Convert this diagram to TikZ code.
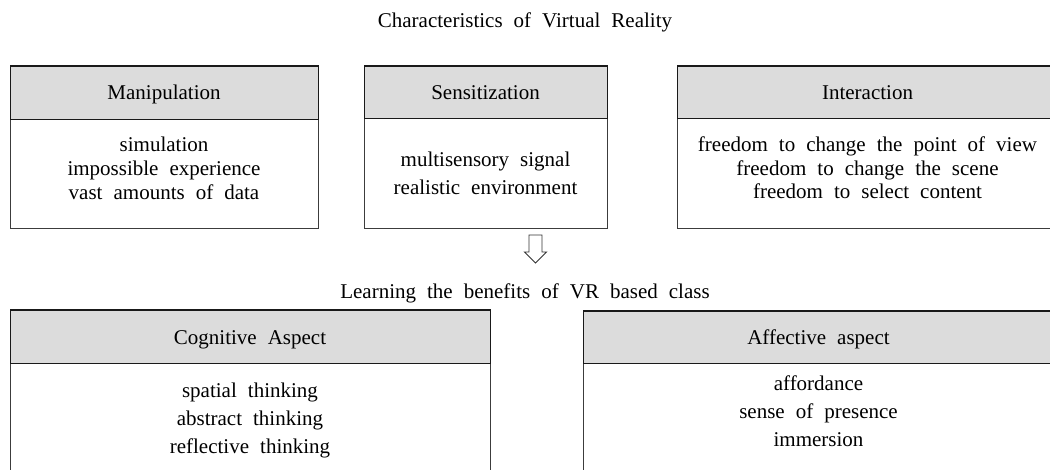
\documentclass[tikz,border=0pt]{standalone}
\usepackage{fontspec}
\setmainfont{Liberation Serif}[WordSpace=2.1]
\definecolor{hdrgray}{RGB}{220,220,220}
\definecolor{edge}{RGB}{60,60,60}
\begin{document}
\begin{tikzpicture}[x=1pt,y=-1pt,
  boxbody/.style={draw=edge, line width=1.2pt, fill=white, anchor=north west, inner sep=0pt},
  boxhead/.style={draw=black!90, line width=1.2pt, fill=hdrgray, anchor=north west, inner sep=0pt},
  topline/.style={draw=black!90, line width=2pt},
  lbl/.style={font=\fontsize{21}{24}\selectfont, anchor=base, inner sep=0pt},
  lines/.style={font=\fontsize{21}{#1}\selectfont, align=center, anchor=base, inner sep=0pt},
  hollowarrow/.style={draw=black!80, line width=0.9pt, fill=white, line join=miter}
]
\useasboundingbox (0,0) rectangle (1050,470);
\clip (0,0) rectangle (1050,470);

% title
\node[lbl] (title) at (525,28) {Characteristics of Virtual Reality};

% Manipulation
\node[boxbody, minimum width=308pt, minimum height=109pt] (manB) at (10,119) {};
\node[boxhead, minimum width=308pt, minimum height=53pt] (manH) at (10,66) {};
\draw[topline] (manH.north west) -- (manH.north east);
\node[lbl] (manT) at (164,100) {Manipulation};
\node[lines=24pt] (manL) at (164,200) {simulation\\impossible experience\\vast amounts of data};

% Sensitization
\node[boxbody, minimum width=243pt, minimum height=110pt] (senB) at (364,118) {};
\node[boxhead, minimum width=243pt, minimum height=52pt] (senH) at (364,66) {};
\draw[topline] (senH.north west) -- (senH.north east);
\node[lbl] (senT) at (485.5,100) {Sensitization};
\node[lines=28pt] (senL) at (485.5,195) {multisensory signal\\realistic environment};

% Interaction
\node[boxbody, minimum width=381pt, minimum height=110pt] (intB) at (677,118) {};
\node[boxhead, minimum width=381pt, minimum height=52pt] (intH) at (677,66) {};
\draw[topline] (intH.north west) -- (intH.north east);
\node[lbl] (intT) at (867.5,100) {Interaction};
\node[lines=23.5pt] (intL) at (867.5,198.7) {freedom to change the point of view\\freedom to change the scene\\freedom to select content};

% arrow
\draw[hollowarrow] (529,235) -- (542,235) -- (542,252) -- (546.5,252) -- (535.5,263) -- (524.5,252) -- (529,252) -- cycle;

\node[lbl] (learn) at (525,299) {Learning the benefits of VR based class};

% Cognitive
\node[boxbody, minimum width=480pt, minimum height=120pt] (cogB) at (10,363) {};
\node[boxhead, minimum width=480pt, minimum height=53pt] (cogH) at (10,310) {};
\draw[topline] (cogH.north west) -- (cogH.north east);
\node[lbl] (cogT) at (250,345) {Cognitive Aspect};
\node[lines=28pt] (cogL) at (250,453) {spatial thinking\\abstract thinking\\reflective thinking};

% Affective
\node[boxbody, minimum width=471pt, minimum height=120pt] (affB) at (583,363) {};
\node[boxhead, minimum width=471pt, minimum height=52pt] (affH) at (583,311) {};
\draw[topline] (affH.north west) -- (affH.north east);
\node[lbl] (affT) at (818.5,345) {Affective aspect};
\node[lines=27.5pt] (affL) at (818.5,446) {affordance\\sense of presence\\immersion};
\end{tikzpicture}
\end{document}
